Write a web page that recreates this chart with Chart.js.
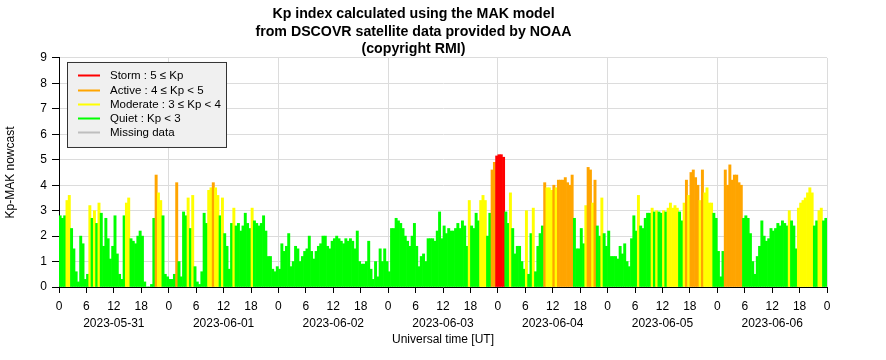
<!DOCTYPE html>
<html>
<head>
<meta charset="utf-8">
<title>Kp index (MAK model)</title>
<script src="https://cdn.jsdelivr.net/npm/chart.js@4.4.1/dist/chart.umd.min.js"></script>
<style>
  html, body { margin: 0; padding: 0; background: #fff; }
</style>
</head>
<body>
<canvas id="kp" width="886" height="360"></canvas>
<script>
// one value every 30 minutes, 48 per day
const dates = ['2023-05-31', '2023-06-01', '2023-06-02', '2023-06-03', '2023-06-04', '2023-06-05', '2023-06-06'];
const stepHours = 0.5;

const kpMay31 = [2.8, 2.7, 2.8, 3.4, 3.6, 2.3, 1.5, 0.6, 0.2, 2.0, 1.7, 0.3, 0.5, 3.2, 2.7, 3.0, 2.5, 3.3, 2.9, 1.6, 2.7, 1.9, 1.1, 1.6,
                 2.8, 1.3, 0.5, 0.3, 2.8, 3.3, 3.5, 1.9, 1.8, 1.7, 2.0, 2.2, 2.0, 0.2, 0.0, 0.0, 0.1, 2.7, 4.4, 3.7, 3.4, 2.8, 0.5, 0.4];
const kpJun01 = [0.3, 0.3, 0.5, 4.1, 1.0, 0.4, 2.95, 2.8, 3.5, 2.3, 3.6, 0.8, 0.2, 0.1, 0.6, 2.9, 2.5, 3.8, 3.9, 4.1, 3.9, 3.6, 2.8, 3.5,
                 2.1, 1.6, 0.7, 2.5, 3.1, 2.4, 2.5, 2.2, 2.4, 2.9, 2.5, 2.3, 3.1, 2.6, 2.5, 2.4, 2.5, 2.8, 2.2, 1.2, 1.2, 0.7, 0.6, 0.8];
const kpJun02 = [0.7, 1.7, 1.4, 1.6, 2.1, 0.8, 1.0, 1.6, 1.5, 1.0, 1.2, 1.4, 1.5, 2.0, 1.4, 1.1, 1.4, 1.6, 1.7, 2.0, 2.0, 1.6, 1.5, 1.8,
                 1.9, 2.0, 1.9, 1.8, 1.7, 1.9, 1.8, 1.9, 1.8, 1.5, 2.2, 1.0, 0.9, 0.9, 1.0, 1.8, 0.7, 0.3, 1.0, 0.4, 1.5, 1.0, 1.5, 1.0];
const kpJun03 = [0.6, 2.3, 2.3, 2.7, 2.6, 2.5, 2.3, 2.0, 1.8, 1.6, 2.0, 2.5, 1.6, 0.8, 1.2, 1.3, 1.0, 1.9, 1.9, 1.9, 1.8, 2.2, 2.95, 1.9,
                 2.4, 2.1, 2.3, 2.2, 2.2, 2.3, 2.5, 2.3, 2.6, 2.4, 1.6, 3.4, 2.4, 2.3, 2.9, 2.6, 3.4, 3.6, 3.4, 2.0, 2.9, 4.6, 4.9, 5.15];
const kpJun04 = [5.2, 5.2, 5.1, 2.95, 2.5, 3.7, 2.3, 1.3, 1.6, 1.6, 1.0, 0.7, 3.0, 0.5, 2.1, 3.1, 0.6, 1.6, 2.1, 2.4, 4.1, 3.9, 3.9, 3.8,
                 4.0, 3.9, 4.2, 4.2, 4.2, 4.3, 4.1, 4.0, 4.4, 2.7, 1.5, 1.5, 2.3, 1.7, 3.2, 4.7, 4.6, 3.3, 4.2, 2.4, 2.0, 3.5, 2.1, 1.6];
const kpJun05 = [2.2, 1.2, 1.2, 1.2, 1.1, 1.6, 1.3, 1.7, 1.0, 0.8, 1.9, 2.8, 2.2, 3.6, 2.4, 2.3, 2.7, 2.9, 2.9, 3.1, 2.95, 3.0, 2.95, 2.9,
                 3.0, 2.95, 3.1, 3.3, 3.1, 3.2, 3.1, 2.95, 2.6, 3.3, 4.2, 3.6, 4.5, 4.6, 4.3, 4.0, 3.4, 4.6, 3.7, 3.9, 3.3, 3.3, 2.9, 2.7];
const kpJun06 = [1.4, 0.4, 1.4, 4.6, 4.0, 4.8, 4.2, 4.4, 4.4, 4.1, 4.0, 2.7, 2.8, 2.7, 2.1, 1.0, 0.5, 1.2, 1.6, 2.6, 2.0, 1.8, 1.9, 2.3,
                 2.2, 2.3, 2.5, 2.4, 2.6, 2.5, 2.4, 3.0, 2.6, 2.4, 1.5, 3.1, 3.3, 3.4, 3.5, 3.7, 3.9, 3.7, 2.4, 2.6, 3.0, 3.1, 2.6, 2.7];

const yTicks = [0, 1, 2, 3, 4, 5, 6, 7, 8, 9];
const levelNames = ['Storm : 5 \u2264 Kp', 'Active : 4 \u2264 Kp < 5', 'Moderate : 3 \u2264 Kp < 4', 'Quiet : Kp < 3', 'Missing data'];
const levelColors = ['#ff0000', '#ffa500', '#ffff00', '#00ff00', '#bebebe'];
const levelFloors = [5, 4, 3, 0];

const FONT = '"Liberation Sans", Arial, Helvetica, sans-serif';

const allDays = [kpMay31, kpJun01, kpJun02, kpJun03, kpJun04, kpJun05, kpJun06];
const points = [];
allDays.forEach((day, d) => {
    day.forEach((v, i) => points.push({ x: d * 24 + i * stepHours + stepHours / 2, y: v }));
});

function kpColor(v) {
    for (let i = 0; i < levelFloors.length; i++) {
        if (v >= levelFloors[i]) return levelColors[i];
    }
    return levelColors[4];
}

// legend drawn inside the plot, top left, like the original
const legendBox = {
    id: 'legendBox',
    afterDraw(chart) {
        const { ctx, chartArea } = chart;
        const x0 = chartArea.left + 8, y0 = chartArea.top + 4;
        ctx.save();
        ctx.fillStyle = '#f0f0f0';
        ctx.fillRect(x0, y0, 159, 85);
        ctx.strokeStyle = '#333';
        ctx.lineWidth = 1;
        ctx.strokeRect(x0 + 0.5, y0 + 0.5, 159, 85);
        ctx.font = '11.5px ' + FONT;
        ctx.textBaseline = 'middle';
        levelNames.forEach((name, i) => {
            const y = Math.round(y0 + 13.5 + i * 14.2) + 0.5;
            ctx.strokeStyle = levelColors[i];
            ctx.lineWidth = 2;
            ctx.beginPath();
            ctx.moveTo(x0 + 11, y);
            ctx.lineTo(x0 + 33, y);
            ctx.stroke();
            ctx.fillStyle = '#000';
            ctx.fillText(name, x0 + 43, y);
        });
        ctx.restore();
    }
};

new Chart(document.getElementById('kp'), {
    type: 'bar',
    data: {
        datasets: [{
            label: 'Kp-MAK nowcast',
            data: points,
            backgroundColor: (c) => kpColor(c.parsed ? c.parsed.y : 0),
            borderWidth: 0,
            barPercentage: 1,
            categoryPercentage: 1,
            grouped: false
        }]
    },
    options: {
        responsive: false,
        animation: false,
        layout: { padding: { left: 0, right: 59, top: 0, bottom: 0 } },
        plugins: {
            legend: { display: false },
            tooltip: { enabled: false },
            title: {
                display: true,
                text: ['Kp index calculated using the MAK model', 'from DSCOVR satellite data provided by NOAA', '(copyright RMI)'],
                color: '#000',
                font: { family: FONT, size: 14.2, weight: 'bold', lineHeight: 1.232 },
                padding: { top: 5.5, bottom: 0 }
            }
        },
        scales: {
            x: {
                type: 'linear',
                min: 0,
                max: 168,
                offset: false,
                grid: {
                    offset: false,
                    color: (c) => (c.tick && c.tick.value % 24 === 0) ? '#dcdcdc' : 'rgba(0,0,0,0)',
                    tickColor: '#000',
                    tickLength: 6
                },
                border: { color: '#000', width: 1 },
                ticks: {
                    stepSize: 6,
                    autoSkip: false,
                    maxRotation: 0,
                    color: '#000',
                    padding: 5,
                    font: { family: FONT, size: 12, lineHeight: 1.42 },
                    callback: (value) => {
                        const h = value % 24;
                        if (h === 12) return [String(h), dates[Math.floor(value / 24)]];
                        return String(h);
                    }
                },
                title: {
                    display: true,
                    text: 'Universal time [UT]',
                    color: '#000',
                    font: { family: FONT, size: 12 },
                    padding: { top: 0, bottom: 13.5 }
                },
                afterFit: (scale) => { scale.height = 73; }
            },
            y: {
                min: 0,
                max: 9,
                grid: { color: '#dcdcdc', tickColor: '#000', tickLength: 7 },
                border: { color: '#000', width: 1 },
                ticks: {
                    stepSize: 1,
                    color: '#000',
                    padding: 5,
                    font: { family: FONT, size: 12 },
                    callback: (value) => yTicks.includes(value) ? String(value) : ''
                },
                title: {
                    display: true,
                    text: 'Kp-MAK nowcast',
                    color: '#000',
                    font: { family: FONT, size: 12 },
                    padding: { top: 3, bottom: 0 }
                },
                afterFit: (scale) => { scale.width = 59; }
            }
        }
    },
    plugins: [legendBox]
});
</script>
</body>
</html>
